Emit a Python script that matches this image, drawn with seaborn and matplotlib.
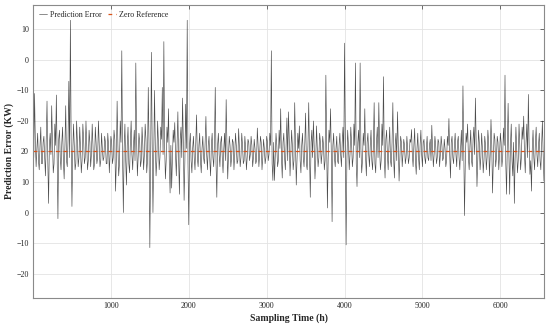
import numpy as np
import pandas as pd
import seaborn as sns
import matplotlib
matplotlib.use("Agg")
import matplotlib.pyplot as plt

# sampling time (h): main readings every 20 h, in-between readings at +10 h
hours_main = np.arange(0, 6561, 20)
hours_mid = np.arange(10, 6560, 20)

# prediction error values (KW) at the main readings
errors_main = [
    4, 19, -5, 6, -6, 8, -4, 5, -8, 16.5, -17, 6, 15, -7, 9, 18.5, -22, 7, -6, 8,
    -9, 15, -5, 23, 43, -18, 9, -6, 10, -5, 8, -7, 9, -4, 10, -6, 7, -5, 9, -6,
    8, -4, 10, -5, 6, -3, 5, -4, 6, -7, 5, -4, 7, -13, 16.5, -8, 10, 33, -20, 9,
    -11, 8, -7, 10, -6, 7, 29, -8, 6, -5, 8, -6, 9, -7, 21, -31.5, 32.5, -20, 20, -8,
    10, -6, 8, 21, 36, -9, 8, 14, -13.6, -12, 7, 9.5, -8, 13, -14, 8, 17.5, -16, 15.5, 43,
    -24, 6, -7, 5, -6, 12, -5, 6, -7, 5, -4, 11.5, -6, 5, -8, 6, -5, 21, -15, 6,
    -5, 5, -7, 6, 17, -9, 5, -5, 4, -6, 6, -4, 7.5, -5, 6, -4, 5, -6, 4, -3,
    5, -5, 4, -4, 7.7, -5, 5, -6, 4, -4, 5, -3, 6, 33, -9.5, -9.5, 6, -5, 7, 14,
    -8.7, 6, -6, 11, 13, -8, 7, -6, 16, -11, 6, 8.4, -7, 6, -5, 12.6, -6, 16, -15, 7,
    10, -9, 8.4, -5, 6, -4, 5, -6, 25, -18.5, 7, 14, -23, 6, -5, 5, -4, 6, -5, 8,
    35.5, -30.6, 7, -6, 8, -5, 9, 29, -11.5, 7, 29, -7, 6, 14, -8, 6, -5, 7, -6, 16,
    -7, 8, 16, -6, 9, 24.5, -8.7, 7, -6, 8, -5, 16, -8.7, 6, 13, -9.7, 5, -5, 4, -4,
    5, -4, 4, 7.2, -5, 7.6, -7.5, 6, -6, 7, -5, 4, -4, 5, -3, 4, 8.6, -5, 5, -4,
    4, -5, 5, -3, 4, -5, 5, 10.8, -8.7, 5, -4, 6, -5, 5, -6, 7, 21.5, -21, 6, 9,
    -6, 7, -5, 8, 17.5, -11.5, 7, -6, 6, -7, 5, -6, 7, -8, 10.5, -13.6, 6, -5, 5, -6,
    6, -5, 7.7, 25, -14, 15.8, -14, 9, -8, -17, 8, -7, 9, -6, 8, 11.6, -7, 9, 18.7, -7.5,
    -13, 7, -6, 8, -5, 6, -6, 10, -9.7,
]

# smaller wiggles at the in-between readings (KW)
errors_mid = [
    -2, 3, 1, -3, 2, -4, 3, -2, 4, -3, 2, -1, 3, -4, 2, -3, 4, -2, 3, -3,
    2, -3, 4, -2, 3, -1, 2, -4, 3, -2, 1, -3, 4, -2, 2, -3, 3, -1, 2, -4,
    3, -2, 2, -3, 1, -2, 3, -4, 2, -1, 3, -2, 4, -3, 2, -4, 3, -2, 1, -3,
    2, -4, 3, -1, 2, -3, 4, -2, 3, -3, 2, -1, 4, -3, 2, -4, 3, -2, 2, -3,
    3, -2, 4, -1, 2, -3, 3, -4, 2, -2, 3, -1, 2, -3, 4, -2, 3, -3, 1, -4,
    2, -3, 1, -2, 3, -2, 2, -3, 1, -2, 3, -1, 2, -3, 2, -2, 3, -4, 2, -1,
    3, -2, 1, -3, 2, -1, 2, -2, 3, -1, 2, -3, 1, -2, 2, -3, 1, -2, 3, -1,
    2, -2, 1, -3, 2, -1, 3, -2, 1, -2, 3, -1, 2, -4, 3, -2, 2, -3, 1, -2,
    3, -2, 2, -3, 4, -1, 2, -3, 3, -2, 1, -3, 2, -2, 3, -4, 2, -1, 3, -2,
    2, -3, 1, -2, 3, -1, 2, -3, 4, -2, 3, -1, 2, -2, 1, -3, 2, -1, 3, -2,
    4, -3, 2, -1, 3, -2, 2, -4, 3, -2, 1, -3, 2, -2, 3, -1, 2, -3, 2, -4,
    3, -2, 1, -3, 2, -2, 4, -1, 2, -3, 3, -2, 2, -3, 1, -2, 3, -1, 2, -2,
    1, -2, 3, -1, 2, -3, 1, -2, 2, -1, 3, -2, 1, -2, 2, -3, 1, -1, 2, -2,
    3, -1, 2, -2, 1, -3, 2, -1, 3, -2, 2, -1, 3, -2, 1, -3, 2, -4, 3, -2,
    2, -3, 4, -1, 2, -3, 3, -2, 1, -3, 2, -2, 3, -1, 2, -3, 4, -2, 3, -1,
    3, -2, 2, -4, 3, -1, 2, -3, 3, -2, 1, -3, 2, -2, 4, -1, 3, -2, 2, -3,
    1, -2, 3, -1, 2, -3, 2, -1,
]

y_ticks = [-40, -30, -20, -10, 0, 10, 20, 30, 40]
y_tick_labels = ["\u221220", "\u221210", "0", "10", "20", "\u221220", "\u221210", "0", "10"]
x_ticks = [1000, 2000, 3000, 4000, 5000, 6000]

df = pd.concat([
    pd.DataFrame({"Sampling Time (h)": hours_main, "Prediction Error (KW)": errors_main}),
    pd.DataFrame({"Sampling Time (h)": hours_mid, "Prediction Error (KW)": errors_mid}),
]).sort_values("Sampling Time (h)")

sns.set_theme(style="whitegrid")
plt.rcParams["font.family"] = ["Liberation Serif", "DejaVu Serif"]

fig = plt.figure(figsize=(5.5, 3.27), dpi=100)
ax = fig.add_axes([0.06, 0.0887, 0.929, 0.896])

sns.lineplot(data=df, x="Sampling Time (h)", y="Prediction Error (KW)", ax=ax,
             color="#1e1e1e", linewidth=0.45, alpha=0.8, label="Prediction Error",
             sort=False)
ax.axhline(0, color="#d95319", linestyle="--", linewidth=0.9, dashes=(3, 3),
           label="Zero Reference")

ax.set_xlim(0, 6560)
ax.set_ylim(-48, 48)
ax.set_xticks(x_ticks)
ax.set_yticks(y_ticks)
ax.set_yticklabels(y_tick_labels)

ax.grid(True, color="#e3e3e3", linewidth=0.6)
ax.tick_params(direction="in", length=3, width=0.6, color="#555555",
               top=True, right=True, labelsize=5.8, pad=3)
for s in ax.spines.values():
    s.set_color("#8a8a8a")
    s.set_linewidth(0.8)

ax.set_xlabel("Sampling Time (h)", fontsize=7, fontweight="bold", labelpad=2)
ax.set_ylabel("Prediction Error (KW)", fontsize=7, fontweight="bold", labelpad=2)

ax.legend(loc="upper left", ncol=2, frameon=False, fontsize=5.8,
          handlelength=1.0, handletextpad=0.4, columnspacing=0.8,
          borderaxespad=0.3)

fig.savefig("out.png", dpi=100)
